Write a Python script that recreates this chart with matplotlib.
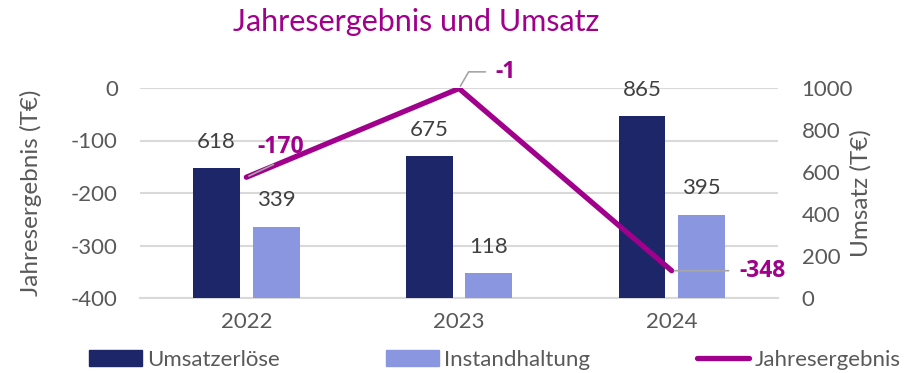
import matplotlib
matplotlib.use('Agg')
import matplotlib.pyplot as plt
import numpy as np
from matplotlib.patches import Patch
from matplotlib.lines import Line2D

plt.rcParams['font.family'] = ['Lato', 'DejaVu Sans']
plt.rcParams['axes.unicode_minus'] = False

years = ['2022', '2023', '2024']
umsatz = [618, 675, 865]
instandhaltung = [339, 118, 395]
ergebnis = [-170, -1, -348]

dark = '#1C2669'
light = '#8A97E0'
purple = '#A0008C'
grey_txt = '#595959'
val_txt = '#404040'
grid_c = '#D9D9D9'
fs = 16

fig = plt.figure(figsize=(9.09, 3.73), dpi=100)
ax = fig.add_axes([140/909, 75/373, 638/909, 210/373])
ax2 = ax.twinx()

x = np.arange(len(years))
w = 0.22
off = 0.14

# left axis: Jahresergebnis, carries the grid
ax.set_xlim(-0.5, 2.5)
ax.set_ylim(-400, 0)
ax.set_yticks([-400, -300, -200, -100, 0])
ax.grid(axis='y', color=grid_c, linewidth=1.5)
ax.set_axisbelow(True)
ax.set_xticks(x)
ax.set_xticklabels(years)
ax.tick_params(axis='both', length=0, labelsize=fs, labelcolor=grey_txt)
ax.tick_params(axis='y', pad=16)
ax.tick_params(axis='x', pad=10)
for s in ['top', 'right', 'left']:
    ax.spines[s].set_visible(False)
ax.spines['bottom'].set_color(grid_c)
ax.spines['bottom'].set_linewidth(1.5)
ax.set_ylabel('Jahresergebnis (T€)', fontsize=17.5, color=grey_txt, labelpad=21)

# right axis: Umsatz bars
ax2.set_ylim(0, 1000)
ax2.set_yticks([0, 200, 400, 600, 800, 1000])
ax2.tick_params(axis='y', length=0, labelsize=fs, labelcolor=grey_txt, pad=17)
for s in ax2.spines.values():
    s.set_visible(False)
ax2.set_ylabel('Umsatz (T€)', fontsize=17.5, color=grey_txt, labelpad=-2)

b1 = ax2.bar(x - off, umsatz, w, color=dark, zorder=2)
b2 = ax2.bar(x + off, instandhaltung, w, color=light, zorder=2)
for bars, vals in [(b1, umsatz), (b2, instandhaltung)]:
    for r, v in zip(bars, vals):
        ax2.annotate(str(v), (r.get_x() + r.get_width()/2, v), xytext=(0, 12),
                     textcoords='offset points', ha='center', va='bottom',
                     fontsize=fs, color=val_txt)

# Jahresergebnis line, drawn above the bars but in left-axis coordinates
ax2.plot(x, ergebnis, color=purple, lw=3.8, solid_capstyle='round',
         solid_joinstyle='miter', transform=ax.transData, zorder=4)

lead = dict(arrowstyle='-', color='#A6A6A6', lw=1.2, shrinkB=2)
bold = dict(fontsize=16.5, fontweight='bold', family=['Open Sans', 'DejaVu Sans'],
            color=purple, zorder=5)
ax2.annotate(str(ergebnis[0]), (x[0], ergebnis[0]), xycoords=ax.transData,
             xytext=(25, 22), textcoords='offset points', ha='center', va='center',
             arrowprops=dict(lead, relpos=(0.6, 0), shrinkA=5), **bold)
ax2.annotate(str(ergebnis[1]), (x[1], ergebnis[1]), xycoords=ax.transData,
             xytext=(26, 12), textcoords='offset points', ha='left', va='center',
             arrowprops=dict(lead, relpos=(0, 0.5), shrinkA=5,
                             connectionstyle='angle,angleA=0,angleB=60,rad=0'), **bold)
ax2.annotate(str(ergebnis[2]), (x[2], ergebnis[2]), xycoords=ax.transData,
             xytext=(49, 0), textcoords='offset points', ha='left', va='center',
             arrowprops=dict(lead, relpos=(0, 0.5), shrinkA=6), **bold)

fig.text(416/909, 1 - 22/373, 'Jahresergebnis und Umsatz', ha='center', va='center',
         fontsize=22, color=purple)

handles = [Patch(color=dark, label='Umsatzerlöse'),
           Patch(color=light, label='Instandhaltung'),
           Line2D([], [], color=purple, lw=3.8, solid_capstyle='round', label='Jahresergebnis')]
fig.legend(handles=handles, loc='center', bbox_to_anchor=(495/909, 1 - 360/373), ncol=3,
           frameon=False, fontsize=fs, handlelength=2.35, handleheight=0.7,
           handletextpad=0.25, columnspacing=4.8, labelcolor=grey_txt)

fig.savefig('out.png', dpi=100)
